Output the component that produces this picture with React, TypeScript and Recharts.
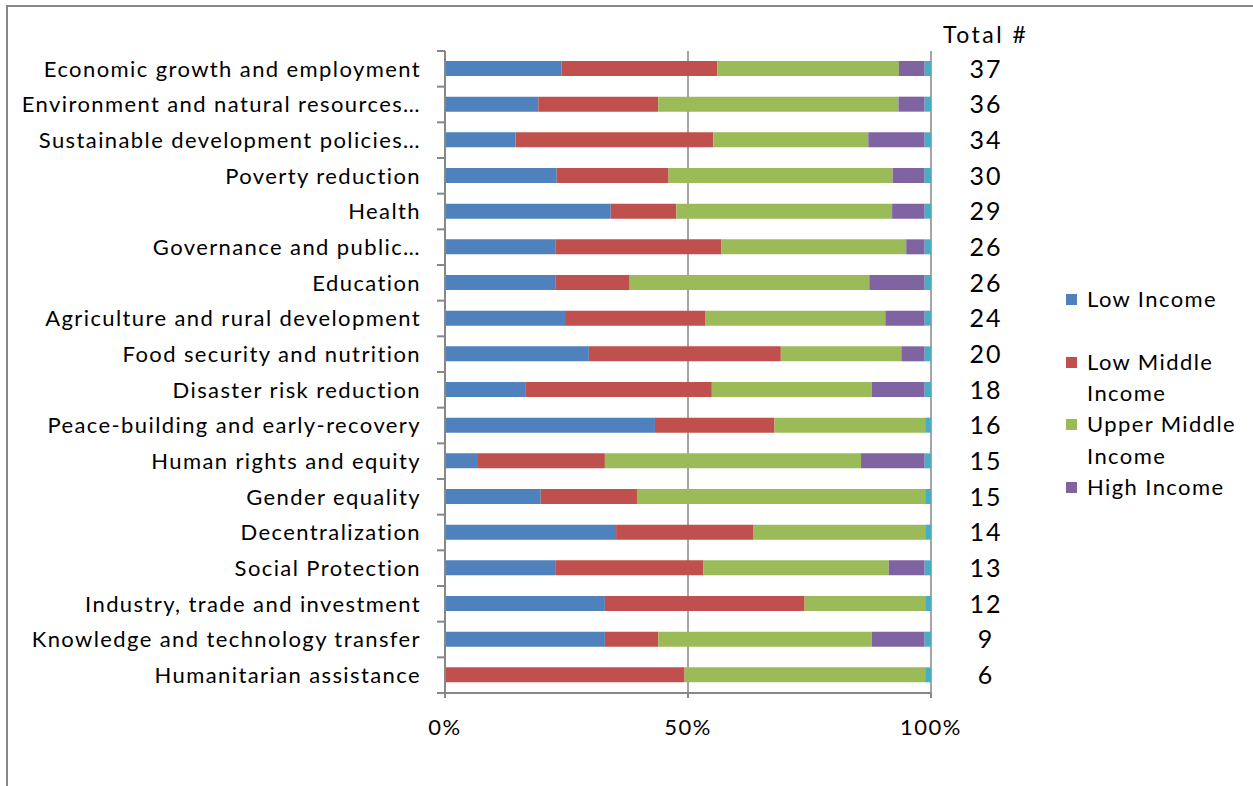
import React from 'react';
import { BarChart, Bar, XAxis, YAxis, CartesianGrid, LabelList } from 'recharts';

const categories = [
  'Economic growth and employment',
  'Environment and natural resources…',
  'Sustainable development policies…',
  'Poverty reduction',
  'Health',
  'Governance and public…',
  'Education',
  'Agriculture and rural development',
  'Food security and nutrition',
  'Disaster risk reduction',
  'Peace-building and early-recovery',
  'Human rights and equity',
  'Gender equality',
  'Decentralization',
  'Social Protection',
  'Industry, trade and investment',
  'Knowledge and technology transfer',
  'Humanitarian assistance',
];

const totals = [37, 36, 34, 30, 29, 26, 26, 24, 20, 18, 16, 15, 15, 14, 13, 12, 9, 6];

// shares in %
const lowIncome = [24.0, 19.2, 14.5, 23.0, 34.1, 22.8, 22.8, 24.7, 29.6, 16.5, 43.2, 6.6, 19.7, 35.2, 22.8, 32.9, 32.9, 0];
const lowMiddle = [32.0, 24.7, 40.7, 23.0, 13.5, 34.1, 15.2, 28.8, 39.5, 38.4, 24.6, 26.3, 19.8, 28.3, 30.4, 41.1, 11.0, 49.3];
const upperMiddle = [37.4, 49.4, 31.9, 46.1, 44.4, 38.0, 49.3, 37.1, 24.8, 32.9, 31.0, 52.7, 59.3, 35.3, 38.1, 24.8, 43.9, 49.5];
const highIncome = [5.3, 5.4, 11.6, 6.6, 6.7, 3.8, 11.4, 8.1, 4.8, 10.9, 0, 13.1, 0, 0, 7.4, 0, 10.9, 0];
const other = [1.3, 1.3, 1.3, 1.3, 1.3, 1.3, 1.3, 1.3, 1.3, 1.3, 1.2, 1.3, 1.2, 1.2, 1.3, 1.2, 1.3, 1.2];

const series = [
  { key: 'low', name: 'Low Income', color: '#4F81BD', values: lowIncome, legend: true },
  { key: 'lowMid', name: 'Low Middle Income', color: '#C0504D', values: lowMiddle, legend: true },
  { key: 'upperMid', name: 'Upper Middle Income', color: '#9BBB59', values: upperMiddle, legend: true },
  { key: 'high', name: 'High Income', color: '#8064A2', values: highIncome, legend: true },
  { key: 'other', name: 'Other', color: '#4BACC6', values: other, legend: false },
];

const data = categories.map((name, i) => {
  const row: Record<string, number | string> = { name, total: totals[i] };
  series.forEach((s) => (row[s.key] = s.values[i]));
  return row;
});

const W = 1253;
const H = 786;
const PLOT_LEFT = 445;
const PLOT_RIGHT = 931;
const PLOT_TOP = 51;
const PLOT_BOTTOM = 693;
const BAND = (PLOT_BOTTOM - PLOT_TOP) / categories.length;
const GRAY = '#878787';
const FONT = 'Lato, "Open Sans", sans-serif';
const SPACING = 1.4;

const CategoryTick = (props: any) => {
  const { y, payload, index } = props;
  const half = BAND / 2;
  return (
    <g>
      <line x1={PLOT_LEFT - 8} x2={PLOT_LEFT} y1={y - half} y2={y - half} stroke={GRAY} strokeWidth={2} />
      {index === categories.length - 1 && (
        <line x1={PLOT_LEFT - 8} x2={PLOT_LEFT} y1={y + half} y2={y + half} stroke={GRAY} strokeWidth={2} />
      )}
      <text
        x={PLOT_LEFT - 24}
        y={y}
        dy="0.35em"
        textAnchor="end"
        fontSize={22}
        letterSpacing={SPACING}
        fill="#000"
        fontFamily={FONT}
      >
        {payload.value}
      </text>
    </g>
  );
};

const TotalLabel = (props: any) => {
  const { y, height, value } = props;
  return (
    <text
      x={PLOT_RIGHT + 55}
      y={y + height / 2}
      dy="0.36em"
      textAnchor="middle"
      fontSize={25}
      letterSpacing={2}
      fill="#000"
      fontFamily={FONT}
    >
      {value}
    </text>
  );
};

export default function App() {
  return (
    <div style={{ position: 'absolute', left: 0, top: 0, width: W, height: H, overflow: 'hidden', background: '#fff', fontFamily: FONT }}>
      <div style={{ position: 'absolute', left: 6, top: 5, width: W + 50, height: H + 50, border: `2px solid ${GRAY}` }} />
      <BarChart
        width={W}
        height={H}
        data={data}
        layout="vertical"
        stackOffset="expand"
        barSize={15}
        margin={{ top: PLOT_TOP, right: W - PLOT_RIGHT, bottom: 0, left: 0 }}
        style={{ position: 'absolute', left: 0, top: 0 }}
      >
        <CartesianGrid horizontal={false} stroke={GRAY} strokeWidth={1.5} />
        <XAxis
          type="number"
          domain={[0, 1]}
          ticks={[0, 0.5, 1]}
          tickFormatter={(v: number) => `${Math.round(v * 100)}%`}
          height={H - PLOT_BOTTOM}
          axisLine={{ stroke: GRAY, strokeWidth: 2 }}
          tickLine={{ stroke: GRAY, strokeWidth: 2 }}
          tickSize={5}
          tickMargin={21}
          tick={{ fontSize: 22, fill: '#000', fontFamily: FONT, letterSpacing: 1.5 }}
        />
        <YAxis
          type="category"
          dataKey="name"
          width={PLOT_LEFT}
          axisLine={{ stroke: GRAY, strokeWidth: 2 }}
          tickLine={false}
          tick={<CategoryTick />}
          interval={0}
        />
        {series.map((s) => (
          <Bar key={s.key} dataKey={s.key} name={s.name} stackId="a" fill={s.color} isAnimationActive={false}>
            {s.key === 'other' && <LabelList dataKey="total" content={<TotalLabel />} />}
          </Bar>
        ))}
      </BarChart>
      <div style={{ position: 'absolute', left: 943, top: 19, fontSize: 23, letterSpacing: 2.5, lineHeight: '30px', color: '#000' }}>
        Total #
      </div>
      <div style={{ position: 'absolute', left: 1066, top: 283, width: 187 }}>
        {series
          .filter((s) => s.legend)
          .map((s) => (
            <div
              key={s.key}
              style={{ position: 'relative', height: 62.5, paddingLeft: 21, fontSize: 22, letterSpacing: SPACING, lineHeight: '31.5px', color: '#000' }}
            >
              <span style={{ position: 'absolute', left: 0, top: 11, width: 11, height: 11, background: s.color }} />
              <span style={{ display: 'block', width: 160 }}>{s.name}</span>
            </div>
          ))}
      </div>
    </div>
  );
}
